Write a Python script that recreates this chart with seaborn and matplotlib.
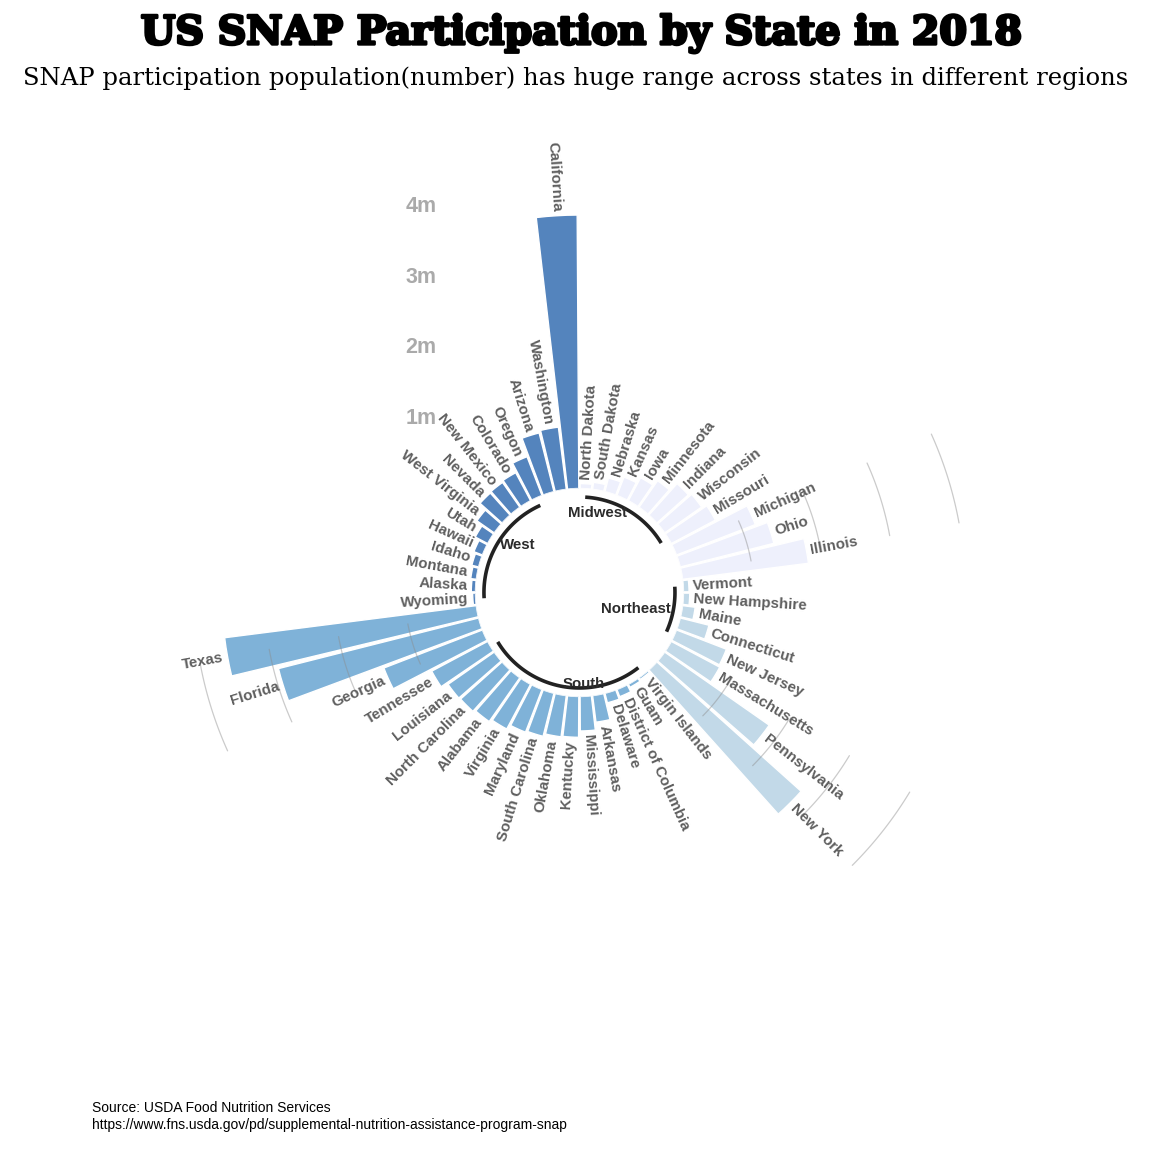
import numpy as np
import pandas as pd
import matplotlib.pyplot as plt
import matplotlib.patheffects as pe
import seaborn as sns

# SNAP participants (millions), sorted within each region
midwest_states = ['North Dakota', 'South Dakota', 'Nebraska', 'Kansas', 'Iowa', 'Minnesota',
                  'Indiana', 'Wisconsin', 'Missouri', 'Michigan', 'Ohio', 'Illinois']
midwest_values = [0.07, 0.10, 0.20, 0.28, 0.37, 0.46, 0.60, 0.64, 0.71, 1.20, 1.37, 1.80]

northeast_states = ['Vermont', 'New Hampshire', 'Maine', 'Connecticut', 'New Jersey',
                    'Massachusetts', 'Pennsylvania', 'New York']
northeast_values = [0.08, 0.09, 0.18, 0.42, 0.76, 0.78, 1.81, 2.75]

south_states = ['Virgin Islands', 'Guam', 'District of Columbia', 'Delaware', 'Arkansas',
                'Mississippi', 'Kentucky', 'Oklahoma', 'South Carolina', 'Maryland', 'Virginia',
                'Alabama', 'North Carolina', 'Louisiana', 'Tennessee', 'Georgia', 'Florida', 'Texas']
south_values = [0.03, 0.05, 0.11, 0.14, 0.38, 0.49, 0.58, 0.59, 0.63, 0.65, 0.72,
                0.76, 0.79, 0.80, 0.90, 1.50, 2.93, 3.60]

west_states = ['Wyoming', 'Alaska', 'Montana', 'Idaho', 'Hawaii', 'Utah', 'West Virginia',
               'Nevada', 'New Mexico', 'Colorado', 'Oregon', 'Arizona', 'Washington', 'California']
west_values = [0.04, 0.06, 0.08, 0.10, 0.13, 0.20, 0.30, 0.42, 0.43, 0.45, 0.59, 0.86, 0.89, 3.88]

regions = ['Midwest', 'Northeast', 'South', 'West']
region_colors = {'Midwest': '#EEF0FC', 'Northeast': '#C2D9E8', 'South': '#7FB2D8', 'West': '#5484BD'}
grid_values = [1, 2, 3, 4]
grid_labels = ['1m', '2m', '3m', '4m']

frames = []
for reg, st, val in zip(regions,
                        [midwest_states, northeast_states, south_states, west_states],
                        [midwest_values, northeast_values, south_values, west_values]):
    frames.append(pd.DataFrame({'state': st, 'value': val, 'region': reg}))
df = pd.concat(frames, ignore_index=True)
n = len(df)
df['pos'] = np.arange(1, n + 1)
df['theta'] = (df['pos'] - 0.5) / n * 2 * np.pi

sns.set_theme(style='white')
plt.rcParams['font.family'] = ['Liberation Sans', 'DejaVu Sans']

fig = plt.figure(figsize=(11.52, 11.52), dpi=100)
ax = fig.add_axes([0.1558, 0.1385, 0.6944, 0.6944], projection='polar')
ax.set_theta_zero_location('N')
ax.set_theta_direction(-1)

sns.barplot(data=df, x='theta', y='value', hue='region', palette=region_colors,
            native_scale=True, width=0.9, saturation=1, errorbar=None, legend=False, ax=ax)

ax.set_rorigin(-1.475)
ax.set_ylim(0, 4.2)
ax.set_xlim(0, 2 * np.pi)
ax.axis('off')

step = 2 * np.pi / n

def ang(p):
    return (p - 0.5) * step

# faint reference arcs at the end of each group (not for the last one)
for reg in regions[:-1]:
    end = df.loc[df['region'] == reg, 'pos'].max()
    t = np.linspace(ang(end - 2), ang(end), 40)
    for v in grid_values:
        ax.plot(t, [v] * len(t), color='#8c8c8c', alpha=0.45, lw=0.9, zorder=5)

# state labels
for _, row in df.iterrows():
    deg = np.degrees(row['theta'])
    if deg <= 180:
        rot, ha = 90 - deg, 'left'
    else:
        rot, ha = 270 - deg, 'right'
    ax.text(row['theta'], row['value'] + 0.06, row['state'], rotation=rot,
            rotation_mode='anchor', ha=ha, va='center', fontsize=10.9,
            fontweight='bold', color='#5f5f5f', zorder=6)

# group arcs and names
name_align = {'Midwest': 'right', 'Northeast': 'right', 'South': 'left', 'West': 'left'}
for reg in regions:
    pos = df.loc[df['region'] == reg, 'pos']
    start, end = pos.min(), pos.max() - 3
    t = np.linspace(ang(start), ang(end), 80)
    ax.plot(t, [-0.12] * len(t), color='#222222', lw=2.6, solid_capstyle='butt',
            clip_on=False, zorder=6)
    ax.text(ang((start + end) / 2), -0.16, reg, ha=name_align[reg], va='center',
            fontsize=10.8, fontweight='bold', color='#2b2b2b', clip_on=False, zorder=7)

# radial value labels
for v, lab in zip(grid_values, grid_labels):
    ax.annotate(lab, xy=(0, v), xytext=(-143, 0), textcoords='offset pixels',
                ha='right', va='center', fontsize=15.5, fontweight='bold',
                color='#aaaaaa', annotation_clip=False)

fig.text(0.505, 0.971, 'US SNAP Participation by State in 2018', ha='center', va='center',
         fontsize=28.5, fontweight='heavy', family='DejaVu Serif', color='black',
         path_effects=[pe.withStroke(linewidth=2.2, foreground='black')])
fig.text(0.500, 0.932, 'SNAP participation population(number) has huge range across states in different regions',
         ha='center', va='center', fontsize=17.5, family='DejaVu Serif', color='black')
fig.text(0.080, 1 - 1108 / 1152, 'Source: USDA Food Nutrition Services', ha='left', va='center',
         fontsize=10, color='black')
fig.text(0.080, 1 - 1125 / 1152, 'https://www.fns.usda.gov/pd/supplemental-nutrition-assistance-program-snap',
         ha='left', va='center', fontsize=10, color='black')

fig.savefig('out.png', dpi=100)
